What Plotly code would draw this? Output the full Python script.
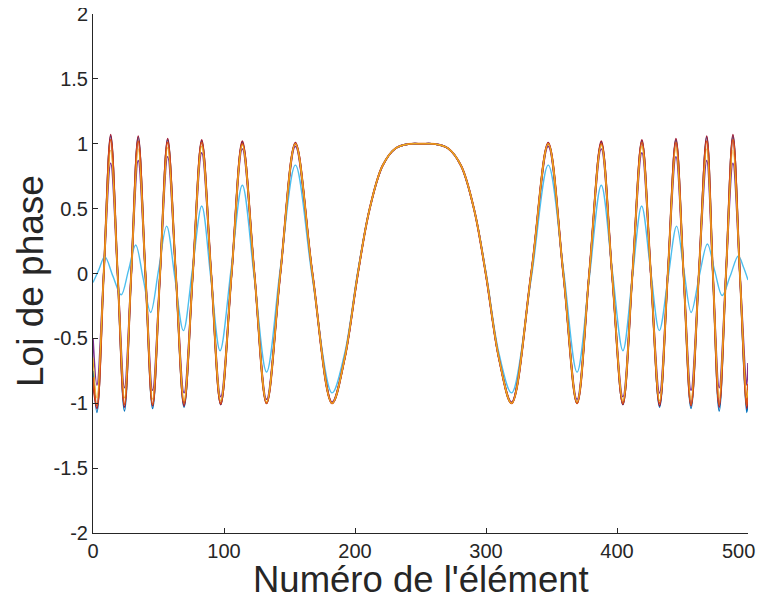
import plotly.graph_objects as go

# ---- key points (extrema, mid-crossings, central lobe) ----
main_x = [0, 3, 8.2, 13.5, 18.8, 24, 29.2, 34.5, 40, 45.5,
          51.2, 57, 63.2, 69.5, 76.2, 83, 90.2, 97.5, 105.8, 114,
          123.2, 132.5, 143, 154.5, 167.5, 182.5, 192, 202.2, 211, 221,
          231, 241, 251, 261, 271, 281, 291, 299.8, 310, 319.5,
          334.5, 347.5, 359, 369.5, 378.8, 388, 396.2, 404.5, 411.8, 419,
          425.8, 432.5, 438.8, 445, 450.8, 456.5, 462.5, 468.5, 473.2, 478,
          483.2, 488.5, 493.8, 499, 500]

blue_y = [-0.75, -1.07, 0, 1.06, 0, -1.06, 0, 1.05, 0, -1.04,
          0, 1.03, 0, -1.03, 0, 1.02, 0, -1.01, 0, 1.01,
          0, -1.0, 0, 1.0, 0, -1.0, -0.66, 0, 0.49, 0.83,
          0.965, 0.998, 1.0, 0.998, 0.965, 0.83, 0.49, 0, -0.66, -1.0,
          0, 1.0, 0, -1.0, 0, 1.01, 0, -1.01, 0, 1.02,
          0, -1.03, 0, 1.03, 0, -1.04, 0, 1.05, 0, -1.06,
          0, 1.06, 0, -1.07, -1.0]

red_y = [-0.85, -1.04, 0, 1.07, 0, -1.03, 0, 1.06, 0, -1.02,
         0, 1.04, 0, -1.02, 0, 1.03, 0, -1.01, 0, 1.02,
         0, -1.0, 0, 1.01, 0, -1.0, -0.66, 0, 0.49, 0.83,
         0.965, 0.998, 1.0, 0.998, 0.965, 0.83, 0.49, 0, -0.66, -1.0,
         0, 1.01, 0, -1.0, 0, 1.02, 0, -1.01, 0, 1.03,
         0, -1.02, 0, 1.04, 0, -1.02, 0, 1.06, 0, -1.03,
         0, 1.07, 0, -1.04, -0.95]

orange_y = [-0.8, -1.02, 0, 1.03, 0, -1.01, 0, 1.02, 0, -1.01,
            0, 1.01, 0, -1.0, 0, 1.01, 0, -1.0, 0, 1.0,
            0, -1.0, 0, 1.0, 0, -1.0, -0.66, 0, 0.49, 0.83,
            0.965, 0.998, 1.0, 0.998, 0.965, 0.83, 0.49, 0, -0.66, -1.0,
            0, 1.0, 0, -1.0, 0, 1.0, 0, -1.0, 0, 1.01,
            0, -1.0, 0, 1.01, 0, -1.01, 0, 1.02, 0, -1.01,
            0, 1.03, 0, -1.02, -0.85]

yellow_y = [-0.65, -0.96, 0, 0.95, 0, -0.96, 0, 0.96, 0, -0.97,
            0, 0.97, 0, -0.98, 0, 0.98, 0, -0.98, 0, 0.99,
            0, -0.99, 0, 1.0, 0, -1.0, -0.66, 0, 0.49, 0.83,
            0.965, 0.998, 1.0, 0.998, 0.965, 0.83, 0.49, 0, -0.66, -1.0,
            0, 1.0, 0, -0.99, 0, 0.99, 0, -0.98, 0, 0.98,
            0, -0.98, 0, 0.97, 0, -0.97, 0, 0.96, 0, -0.96,
            0, 0.95, 0, -0.96, -0.9]

purple_y = [-0.5, -0.86, 0, 0.85, 0, -0.88, 0, 0.87, 0, -0.9,
            0, 0.9, 0, -0.92, 0, 0.93, 0, -0.95, 0, 0.96,
            0, -0.97, 0, 0.98, 0, -0.99, -0.66, 0, 0.49, 0.83,
            0.965, 0.998, 1.0, 0.998, 0.965, 0.83, 0.49, 0, -0.66, -0.99,
            0, 0.98, 0, -0.97, 0, 0.96, 0, -0.95, 0, 0.93,
            0, -0.92, 0, 0.9, 0, -0.9, 0, 0.87, 0, -0.88,
            0, 0.85, 0, -0.86, -0.69]

cyan_x = [0, 4.5, 9, 15.2, 21.5, 27, 32.6, 38.3, 44, 50.1,
          56.2, 62.6, 69, 76, 83, 90, 97, 105.5, 114, 123.2,
          132.5, 143, 154.5, 167.5, 182.5, 192, 202.2, 211, 221, 231,
          241, 251, 261, 271, 281, 291, 299.8, 310, 319.5, 334.5,
          347.5, 359, 369.5, 378.8, 388, 396.2, 404.5, 411.6, 418.8, 425.5,
          432.3, 438.9, 445.5, 451, 456.6, 462.8, 469, 474.6, 480.3, 486.4,
          492.6, 496.5, 500]

cyan_y = [-0.07, 0.03, 0.13, -0.02, -0.165, 0.02, 0.22, -0.04, -0.30, 0.03,
          0.365, -0.04, -0.44, 0.04, 0.52, -0.04, -0.595, 0.04, 0.68, -0.04,
          -0.76, 0.04, 0.835, -0.04, -0.92, -0.62, 0.02, 0.49, 0.83, 0.965,
          0.998, 1.0, 0.998, 0.965, 0.83, 0.49, 0.02, -0.62, -0.92, -0.04,
          0.835, 0.04, -0.76, -0.04, 0.68, 0.04, -0.595, -0.04, 0.52, 0.04,
          -0.44, -0.04, 0.365, 0.03, -0.30, -0.02, 0.227, 0.02, -0.17, -0.02,
          0.135, 0.05, -0.05]

x_tickvals = [0, 100, 200, 300, 400, 500]
x_ticktext = ["0", "100", "200", "300", "400", "500"]
y_tickvals = [-2, -1.5, -1, -0.5, 0, 0.5, 1, 1.5, 2]
y_ticktext = ["-2", "-1.5", "-1", "-0.5", "0", "0.5", "1", "1.5", "2"]
x_title = "Numéro de l'élément"
y_title = "Loi de phase"

series = [
    ("blue", main_x, blue_y, "#0072BD", 1.6),
    ("red", main_x, red_y, "#A2142F", 1.6),
    ("purple", main_x, purple_y, "#7E2F8E", 1.6),
    ("cyan", cyan_x, cyan_y, "#4DBEEE", 1.4),
    ("orange", main_x, orange_y, "#D95319", 2.0),
    ("yellow", main_x, yellow_y, "#EDB120", 1.1),
]

fig = go.Figure()
for name, xs, ys, col, lw in series:
    fig.add_trace(go.Scatter(x=xs, y=ys, mode="lines", name=name,
                             line=dict(color=col, width=lw, shape="spline", smoothing=1.0),
                             showlegend=False))

axis_col = "#262626"
# the page places the figure 8px from the top-left corner of the 766x595 window
W, H = 758, 587
ml, mr, mt, mb = 85, 18, 6, 62
pw, ph = W - ml - mr, H - mt - mb
plot_bottom = H - mb

# the last x tick label sits at the right window edge: draw it as an annotation
# nudged left so that it stays fully visible
x_ticktext_axis = x_ticktext[:-1] + [""]

fig.update_layout(
    width=W, height=H,
    margin=dict(l=ml, r=mr, t=mt, b=mb, autoexpand=False),
    paper_bgcolor="white", plot_bgcolor="white",
    font=dict(family="Liberation Sans, Arial, sans-serif", color=axis_col),
    xaxis=dict(range=[0, 500], tickvals=x_tickvals, ticktext=x_ticktext_axis,
               ticks="inside", ticklen=5, tickcolor=axis_col, tickwidth=1,
               showline=True, linecolor=axis_col, linewidth=1, automargin=False,
               ticklabeloverflow="allow",
               showgrid=False, zeroline=False, tickfont=dict(size=20)),
    yaxis=dict(range=[-2, 2], tickvals=y_tickvals, ticktext=y_ticktext,
               ticks="inside", ticklen=5, tickcolor=axis_col, tickwidth=1,
               showline=True, linecolor=axis_col, linewidth=1, automargin=False,
               ticklabeloverflow="allow",
               showgrid=False, zeroline=False, tickfont=dict(size=20)),
    annotations=[
        dict(text=x_ticktext[-1], xref="x", yref="paper", x=x_tickvals[-1], y=0,
             xanchor="right", yanchor="top", xshift=9, yshift=-5, showarrow=False,
             font=dict(size=20, color=axis_col)),
        dict(text=x_title, xref="paper", yref="paper", x=0.5, y=-(571 - plot_bottom) / ph,
             xanchor="center", yanchor="middle", showarrow=False,
             font=dict(size=36.5, color=axis_col)),
        dict(text=y_title, xref="paper", yref="paper", x=-(ml - 22) / pw, y=(plot_bottom - 273) / ph,
             xanchor="center", yanchor="middle", showarrow=False, textangle=-90,
             font=dict(size=37, color=axis_col)),
    ],
)

fig.write_html("out.html")
